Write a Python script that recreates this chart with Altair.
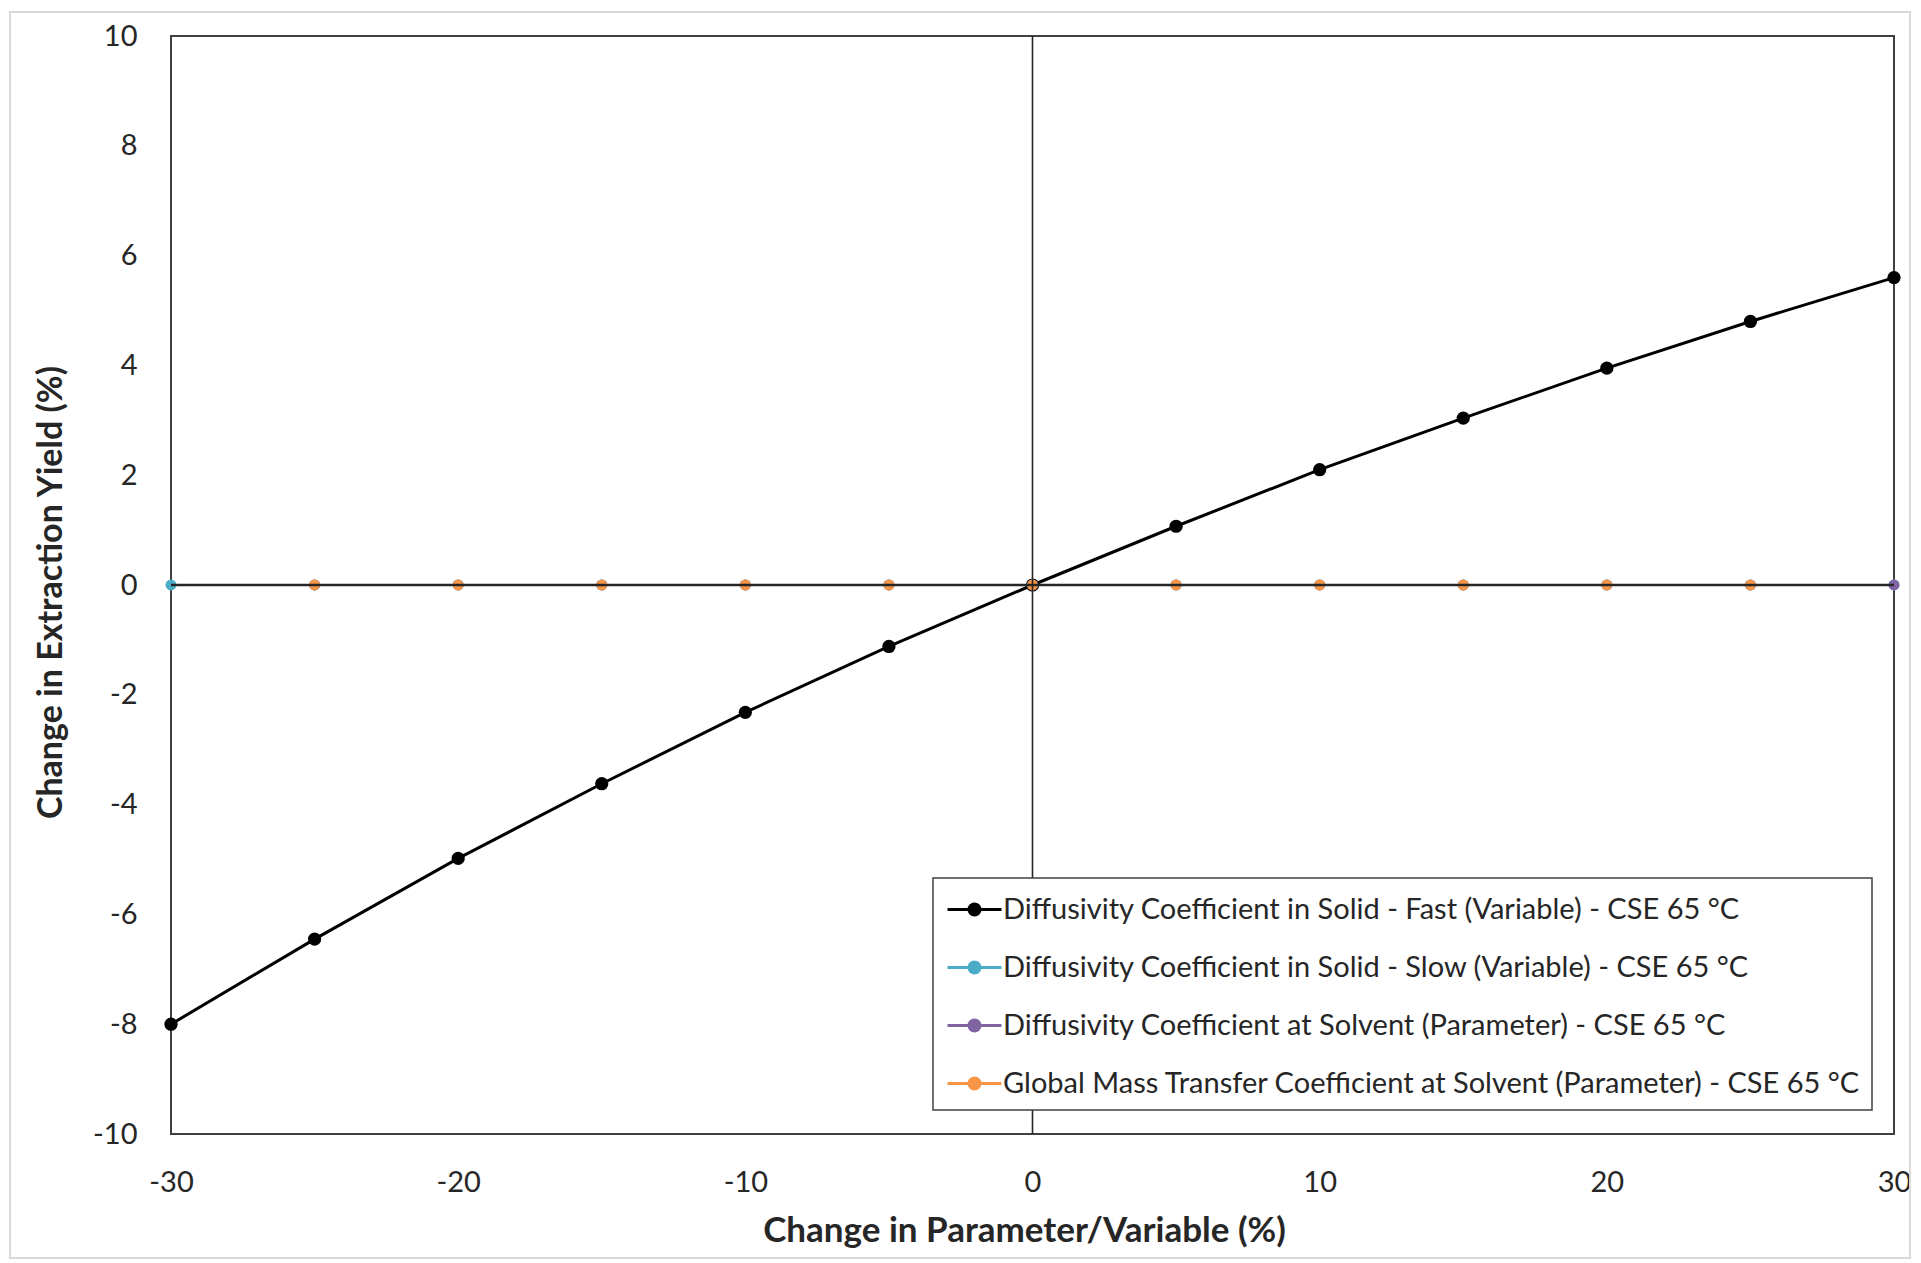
import altair as alt
import pandas as pd

# Percentage change applied to each parameter / variable
x_change = [-30, -25, -20, -15, -10, -5, 0, 5, 10, 15, 20, 25, 30]

# Series names (legend order) and their colours
series_names = [
    "Diffusivity Coefficient in Solid - Fast (Variable) - CSE 65 °C",
    "Diffusivity Coefficient in Solid - Slow (Variable) - CSE 65 °C",
    "Diffusivity Coefficient at Solvent (Parameter) - CSE 65 °C",
    "Global Mass Transfer Coefficient at Solvent (Parameter) - CSE 65 °C",
]
series_colors = ["#000000", "#4bacc6", "#8064a2", "#f79646"]

# Change in extraction yield (%) for each series
fast_solid_x = x_change
fast_solid_y = [-8.0, -6.45, -4.98, -3.62, -2.32, -1.12, 0.0, 1.07, 2.10, 3.04, 3.95, 4.80, 5.60]

slow_solid_x = x_change
slow_solid_y = [0.0, 0.0, 0.0, 0.0, 0.0, 0.0, 0.0, 0.0, 0.0, 0.0, 0.0, 0.0, 0.0]

solvent_diff_x = [-25, -20, -15, -10, -5, 0, 5, 10, 15, 20, 25, 30]
solvent_diff_y = [0.0, 0.0, 0.0, 0.0, 0.0, 0.0, 0.0, 0.0, 0.0, 0.0, 0.0, 0.0]

mass_transfer_x = [-25, -20, -15, -10, -5, 0, 5, 10, 15, 20, 25]
mass_transfer_y = [0.0, 0.0, 0.0, 0.0, 0.0, 0.0, 0.0, 0.0, 0.0, 0.0, 0.0]

x_ticks = [-30, -20, -10, 0, 10, 20, 30]
y_ticks = [-10, -8, -6, -4, -2, 0, 2, 4, 6, 8, 10]

rows = []
for name, xs, ys in zip(
    series_names,
    [fast_solid_x, slow_solid_x, solvent_diff_x, mass_transfer_x],
    [fast_solid_y, slow_solid_y, solvent_diff_y, mass_transfer_y],
):
    for xv, yv in zip(xs, ys):
        rows.append({"series": name, "change": xv, "yield": yv})
df = pd.DataFrame(rows)

FONT = "Lato"
TEXT = "#262626"

x_enc = alt.X(
    "change:Q",
    scale=alt.Scale(domain=[-30, 30], nice=False, zero=False),
    axis=alt.Axis(
        values=x_ticks, title="Change in Parameter/Variable (%)",
        grid=False, ticks=False, tickSize=0, domain=False,
        labelExpr="'' + datum.value", labelFlush=False, labelOverlap=False,
        labelBaseline="middle", labelPadding=48,
        titleX=853, titleY=96, titleBaseline="middle", titleAlign="center",
        titleFontSize=35,
    ),
)
y_enc = alt.Y(
    "yield:Q",
    scale=alt.Scale(domain=[-10, 10], nice=False, zero=False),
    axis=alt.Axis(
        values=y_ticks, title="Change in Extraction Yield (%)",
        grid=False, ticks=False, tickSize=0, domain=False,
        labelExpr="'' + datum.value", labelFlush=False, labelOverlap=False,
        labelAlign="right", labelBaseline="middle", labelPadding=34,
        titleX=-120, titleY=556, titleAngle=270,
        titleBaseline="middle", titleAlign="center",
        titleFontSize=34,
    ),
)

color_scale = alt.Scale(domain=series_names, range=series_colors)
legend = alt.Legend(
    title=None, orient="none", legendX=762, legendY=842,
    symbolType="M-1.42,0H1.42M0.29,0A0.29,0.29,0,1,1,-0.29,0A0.29,0.29,0,1,1,0.29,0Z",
    symbolSize=1444, symbolStrokeWidth=3, symbolOffset=10,
    labelOffset=8, labelLimit=2000, rowPadding=22,
    padding=11, fillColor="white", strokeColor="#404040",
    labelFont=FONT, labelFontSize=29, labelColor=TEXT,
)
color_enc = alt.Color("series:N", scale=color_scale, sort=series_names, legend=legend)
is_fast = alt.datum.series == series_names[0]

base = alt.Chart(df)

lines = base.mark_line(opacity=1).encode(
    x=x_enc, y=y_enc, color=color_enc, order=alt.Order("change:Q"),
    strokeWidth=alt.condition(is_fast, alt.value(3), alt.value(1.8)),
)

points = base.mark_point(filled=True, opacity=1).encode(
    x="change:Q", y="yield:Q", color=color_enc,
    size=alt.condition(is_fast, alt.value(175), alt.value(120)),
)

# Axis lines crossing at the origin
zero = pd.DataFrame({"v": [0]})
zero_h = alt.Chart(zero).mark_rule(color="#262626", strokeWidth=2.4).encode(y=alt.datum(0))
zero_v = alt.Chart(zero).mark_rule(color="#262626", strokeWidth=1.6).encode(x=alt.datum(0))

# Light outer border of the chart area
frame = alt.Chart(zero).mark_rect(
    fill="transparent", stroke="#d9d9d9", strokeWidth=2
).encode(
    x=alt.value(-161), x2=alt.value(1739), y=alt.value(-24), y2=alt.value(1222)
)

chart = (
    alt.layer(frame, lines, points, zero_v, zero_h)
    .properties(
        width=1723, height=1098,
        autosize=alt.AutoSizeParams(type="none"),
        padding={"left": 171, "top": 36, "right": 27, "bottom": 129},
        background="white",
    )
    .configure_view(stroke="#404040", strokeWidth=2)
    .configure_axis(
        labelFont=FONT, labelFontSize=29, labelColor=TEXT,
        titleFont=FONT, titleFontWeight="bold", titleColor=TEXT,
    )
    .configure_legend(strokeWidth=1.5)
)

chart.save("out.html", embed_options={"renderer": "svg", "actions": False})
